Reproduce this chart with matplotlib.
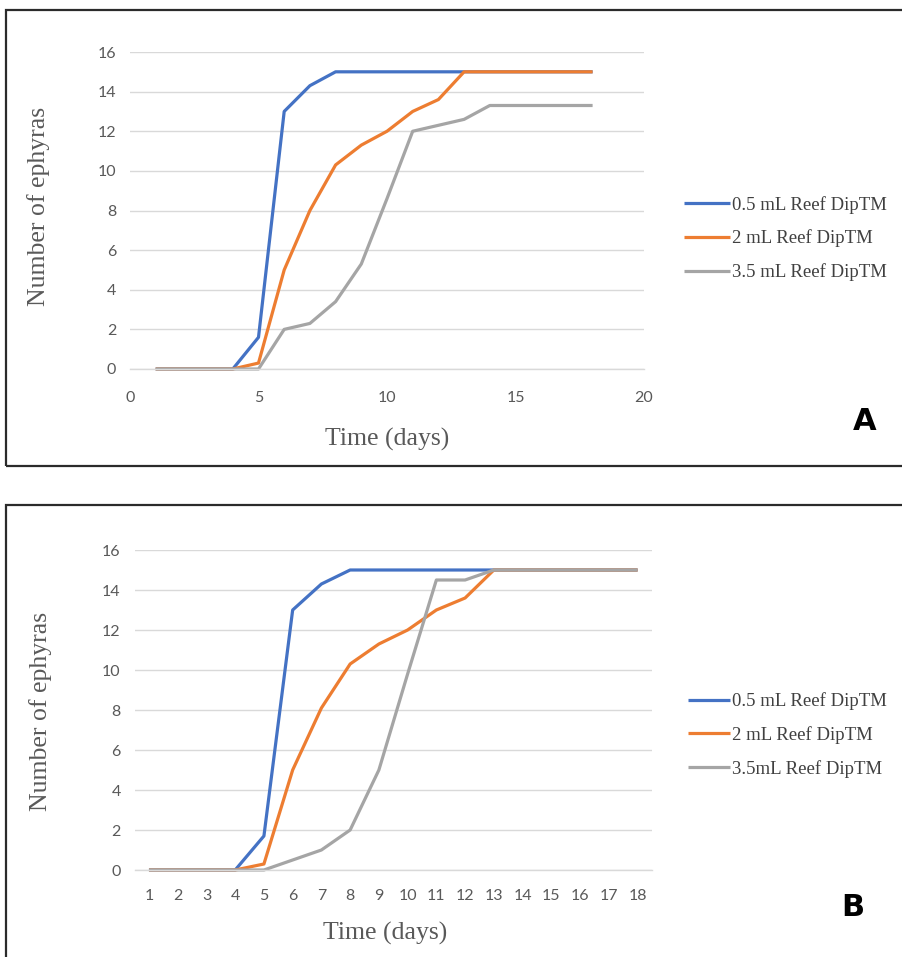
import matplotlib
matplotlib.use("Agg")
import matplotlib.pyplot as plt
from matplotlib.patches import Rectangle

# ---- data ----
days = list(range(1, 19))
labels = ["0.5 mL Reef DipTM", "2 mL Reef DipTM", "3.5 mL Reef DipTM"]
labels_B = ["0.5 mL Reef DipTM", "2 mL Reef DipTM", "3.5mL Reef DipTM"]

blue_A = [0, 0, 0, 0, 1.6, 13, 14.3, 15, 15, 15, 15, 15, 15, 15, 15, 15, 15, 15]
orange_A = [0, 0, 0, 0, 0.3, 5, 8, 10.3, 11.3, 12, 13, 13.6, 15, 15, 15, 15, 15, 15]
gray_A = [0, 0, 0, 0, 0, 2, 2.3, 3.4, 5.3, 8.6, 12, 12.3, 12.6, 13.3, 13.3, 13.3, 13.3, 13.3]

blue_B = [0, 0, 0, 0, 1.7, 13, 14.3, 15, 15, 15, 15, 15, 15, 15, 15, 15, 15, 15]
orange_B = [0, 0, 0, 0, 0.3, 5, 8.1, 10.3, 11.3, 12, 13, 13.6, 15, 15, 15, 15, 15, 15]
gray_B = [0, 0, 0, 0, 0, 0.5, 1, 2, 5, 9.8, 14.5, 14.5, 15, 15, 15, 15, 15, 15]

y_ticks = [0, 2, 4, 6, 8, 10, 12, 14, 16]
x_ticks_A = [0, 5, 10, 15, 20]

colors = ["#4472C4", "#ED7D31", "#A5A5A5"]

W, H = 903, 957
fig = plt.figure(figsize=(W / 100, H / 100), dpi=100)


def fx(px):
    return px / W


def fy(py):
    return 1 - py / H


# frames around the two panels
for (top, bottom) in [(10, 466.5), (504.5, 962)]:
    fig.patches.append(Rectangle((fx(6), fy(bottom)), fx(1000), fy(top) - fy(bottom),
                                 transform=fig.transFigure, fill=False,
                                 edgecolor="#2b2b2b", linewidth=1.6))

serif = ["Liberation Serif", "DejaVu Serif"]
TICK_SIZE = 11.5
TITLE_SIZE = 18.5
LEG_SIZE = 13.5


def style(ax):
    for s in ["top", "right", "left"]:
        ax.spines[s].set_visible(False)
    ax.spines["bottom"].set_color("#d9d9d9")
    ax.spines["bottom"].set_linewidth(1.0)
    ax.grid(axis="y", color="#d9d9d9", linewidth=1.0)
    ax.set_axisbelow(True)
    ax.tick_params(length=0, labelcolor="#595959", labelsize=TICK_SIZE)
    for lab in ax.get_xticklabels() + ax.get_yticklabels():
        lab.set_family("Lato")
    ax.set_ylim(0, 16)
    ax.set_yticks(y_ticks)


# ---- panel A ----
L, R, T, B = 130, 644, 52, 369
axA = fig.add_axes([fx(L), fy(B), (R - L) / W, (B - T) / H])
for vals, c, lab in zip([blue_A, orange_A, gray_A], colors, labels):
    axA.plot(days, vals, color=c, linewidth=2.3, label=lab, clip_on=False,
             solid_capstyle="butt")
axA.set_xlim(0, 20)
axA.set_xticks(x_ticks_A)
style(axA)
axA.tick_params(axis="y", pad=10)
axA.tick_params(axis="x", pad=16)
axA.set_xlabel("Time (days)", family=serif, size=TITLE_SIZE, color="#595959")
axA.set_ylabel("Number of ephyras", family=serif, size=TITLE_SIZE, color="#595959")
axA.xaxis.set_label_coords((387 - L) / (R - L), (B - 428) / (B - T))
axA.yaxis.set_label_coords((50 - L) / (R - L), (B - 206) / (B - T))
axA.legend(loc="center left", bbox_to_anchor=(fx(684), fy(238.5)),
           bbox_transform=fig.transFigure, frameon=False, borderpad=0,
           borderaxespad=0, handlelength=2.45, handletextpad=0.12,
           labelspacing=0.84, prop=dict(family=serif, size=LEG_SIZE),
           labelcolor="#404040")
fig.text(fx(865), fy(422), "A", family="DejaVu Sans", weight="bold", size=22,
         ha="center", va="center", color="black")

# ---- panel B ----
L2, R2, T2, B2 = 134.6, 651.9, 550, 870
axB = fig.add_axes([fx(L2), fy(B2), (R2 - L2) / W, (B2 - T2) / H])
for vals, c, lab in zip([blue_B, orange_B, gray_B], colors, labels_B):
    axB.plot(days, vals, color=c, linewidth=2.3, label=lab, clip_on=False,
             solid_capstyle="butt")
axB.set_xlim(0.5, 18.5)
axB.set_xticks(days)
style(axB)
axB.tick_params(axis="y", pad=10)
axB.tick_params(axis="x", pad=14)
axB.set_xlabel("Time (days)", family=serif, size=TITLE_SIZE, color="#595959")
axB.set_ylabel("Number of ephyras", family=serif, size=TITLE_SIZE, color="#595959")
axB.xaxis.set_label_coords((385 - L2) / (R2 - L2), (B2 - 922) / (B2 - T2))
axB.yaxis.set_label_coords((52 - L2) / (R2 - L2), (B2 - 711) / (B2 - T2))
axB.legend(loc="center left", bbox_to_anchor=(fx(688), fy(735)),
           bbox_transform=fig.transFigure, frameon=False, borderpad=0,
           borderaxespad=0, handlelength=2.25, handletextpad=0.12,
           labelspacing=0.84, prop=dict(family=serif, size=LEG_SIZE),
           labelcolor="#404040")
fig.text(fx(853), fy(907), "B", family="DejaVu Sans", weight="bold", size=22,
         ha="center", va="center", color="black")

fig.savefig("out.png", dpi=100, facecolor="white")
